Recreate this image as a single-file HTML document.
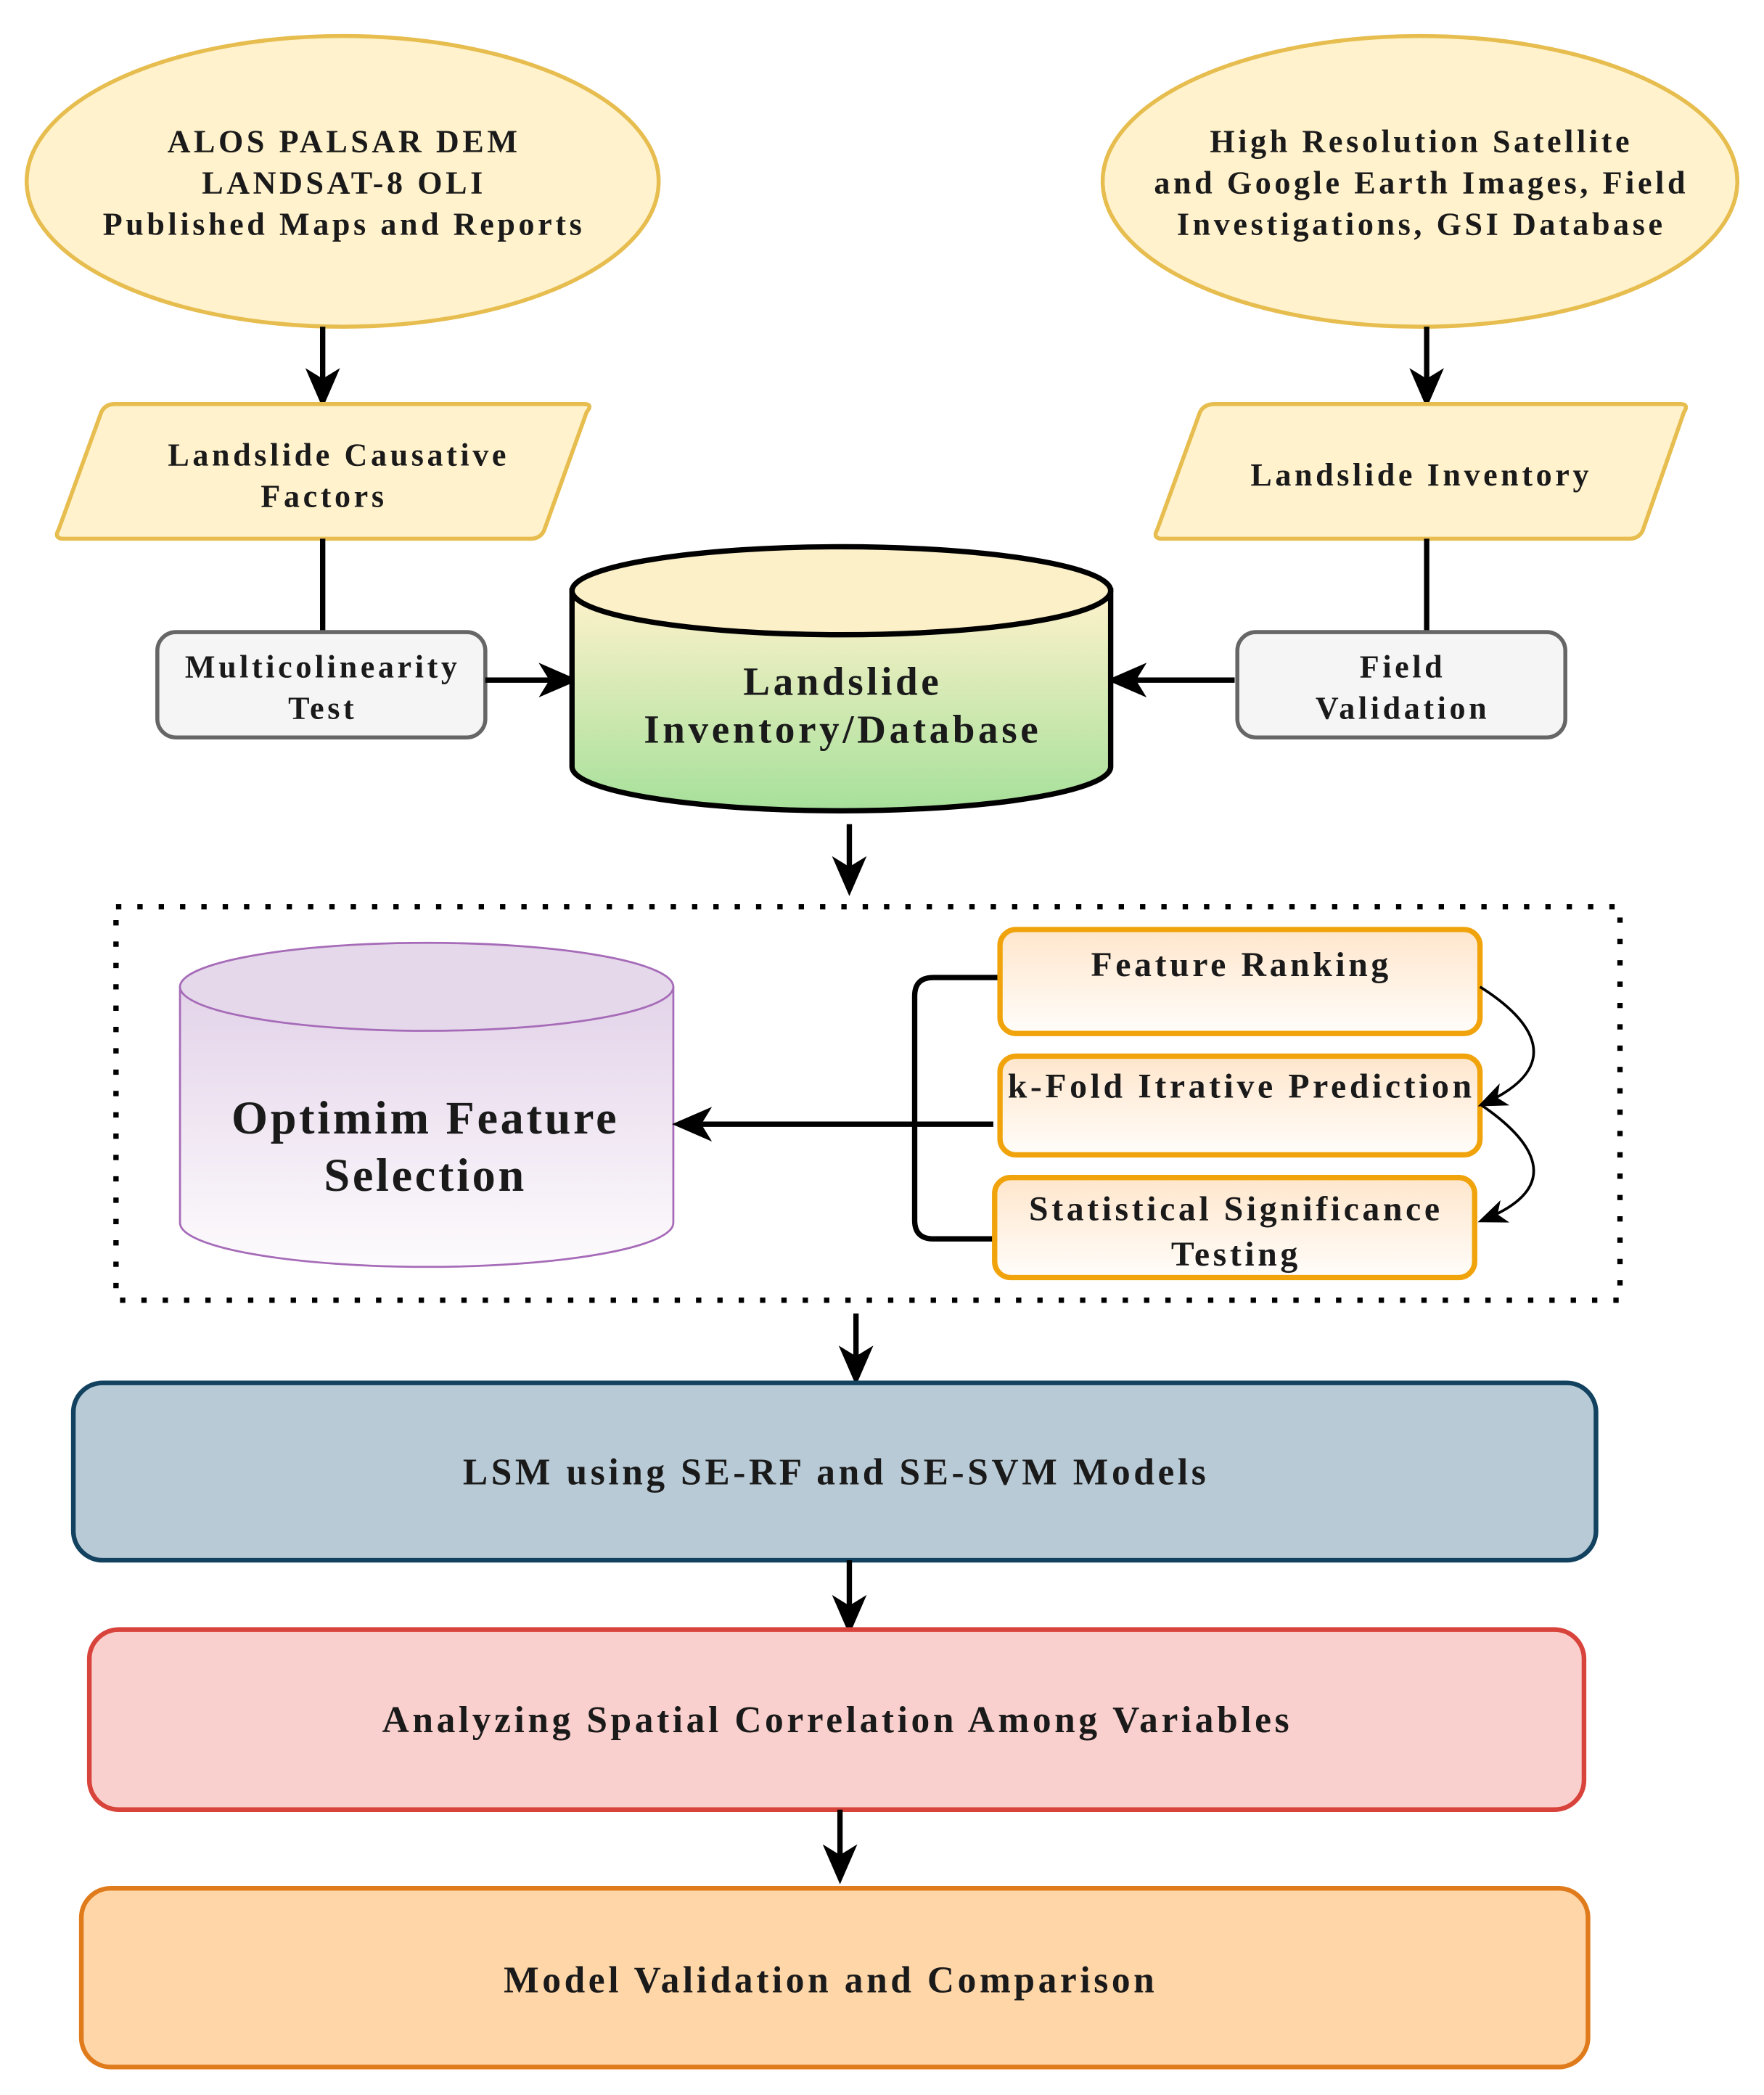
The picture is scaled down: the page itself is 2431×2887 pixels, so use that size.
<!DOCTYPE html>
<html><head><meta charset="utf-8"><style>
html,body{margin:0;padding:0;background:#fff;}
svg{display:block;}
text{font-family:"Liberation Serif",serif;font-weight:bold;fill:#1a1a1a;text-anchor:middle;letter-spacing:2.5px;}
</style></head><body>
<svg width="2431" height="2887" viewBox="0 0 1323 1571" preserveAspectRatio="none" xmlns="http://www.w3.org/2000/svg">
<defs>
<marker id="ahb" markerWidth="30" markerHeight="30" refX="24" refY="15" orient="auto" markerUnits="userSpaceOnUse" viewBox="0 0 30 30"><path d="M0,2 L30,15 L0,28 L8,15 z" fill="#000"/></marker>
<marker id="ahs" markerWidth="22" markerHeight="22" refX="18" refY="11" orient="auto" markerUnits="userSpaceOnUse" viewBox="0 0 22 22"><path d="M0,2 L22,11 L0,20 L6,11 z" fill="#000"/></marker>
<linearGradient id="gg" x1="0" y1="0" x2="0" y2="1"><stop offset="0" stop-color="#fff2cc"/><stop offset="1" stop-color="#a6e09a"/></linearGradient>
<linearGradient id="pg" x1="0" y1="0" x2="0" y2="1"><stop offset="0" stop-color="#e3d3e9"/><stop offset="1" stop-color="#fdfbfd"/></linearGradient>
<linearGradient id="og" x1="0" y1="0" x2="0" y2="1"><stop offset="0" stop-color="#ffe6cc"/><stop offset="1" stop-color="#fffdfa"/></linearGradient>
</defs>

<ellipse cx="257" cy="136" rx="237" ry="109" fill="#fff2cc" stroke="#e6bd4e" stroke-width="3"/>
<text x="258" y="114" font-size="24">ALOS PALSAR DEM</text>
<text x="258" y="145" font-size="24">LANDSAT-8  OLI</text>
<text x="258" y="176" font-size="24">Published Maps and Reports</text>
<ellipse cx="1065" cy="136" rx="238" ry="109" fill="#fff2cc" stroke="#e6bd4e" stroke-width="3"/>
<text x="1066" y="114" font-size="24">High Resolution Satellite</text>
<text x="1066" y="145" font-size="24">and Google Earth Images, Field</text>
<text x="1066" y="176" font-size="24">Investigations, GSI Database</text>

<line x1="242" y1="245" x2="242" y2="300" stroke="#000" stroke-width="4" marker-end="url(#ahb)"/>
<line x1="1070" y1="245" x2="1070" y2="300" stroke="#000" stroke-width="4" marker-end="url(#ahb)"/>

<path d="M86,303 L438,303 Q445,303 440,309 L408,398 Q405,404 398,404 L48,404 Q40,404 44,397 L76,309 Q79,303 86,303 z" fill="#fff2cc" stroke="#e6bd4e" stroke-width="3"/>
<text x="254" y="349" font-size="24">Landslide Causative</text>
<text x="243" y="380" font-size="24">Factors</text>
<path d="M911,303 L1260,303 Q1267,303 1263,309 L1232,398 Q1229,404 1222,404 L872,404 Q864,404 868,397 L900,309 Q903,303 911,303 z" fill="#fff2cc" stroke="#e6bd4e" stroke-width="3"/>
<text x="1066" y="364" font-size="24">Landslide Inventory</text>

<line x1="242" y1="404" x2="242" y2="473" stroke="#000" stroke-width="4"/>
<line x1="1070" y1="404" x2="1070" y2="473" stroke="#000" stroke-width="4"/>

<rect x="118" y="474" width="246" height="79" rx="14" fill="#f5f5f5" stroke="#666" stroke-width="3"/>
<text x="242" y="508" font-size="24">Multicolinearity</text>
<text x="242" y="539" font-size="24">Test</text>
<rect x="928" y="474" width="246" height="79" rx="14" fill="#f5f5f5" stroke="#666" stroke-width="3"/>
<text x="1052" y="508" font-size="24">Field</text>
<text x="1052" y="539" font-size="24">Validation</text>

<line x1="364" y1="510" x2="428" y2="510" stroke="#000" stroke-width="4" marker-end="url(#ahb)"/>
<line x1="926" y1="510" x2="836" y2="510" stroke="#000" stroke-width="4" marker-end="url(#ahb)"/>

<path d="M429,443 L429,575 A202,33 0 0 0 833,575 L833,443 z" fill="url(#gg)" stroke="#000" stroke-width="4"/>
<ellipse cx="631" cy="443" rx="202" ry="33" fill="#fcf0c8" stroke="#000" stroke-width="4"/>
<text x="632" y="521" font-size="30">Landslide</text>
<text x="632" y="557" font-size="30">Inventory/Database</text>

<line x1="637" y1="618" x2="637" y2="666" stroke="#000" stroke-width="4" marker-end="url(#ahb)"/>

<rect x="87" y="680" width="1128" height="295" fill="none" stroke="#000" stroke-width="4" stroke-dasharray="4 12"/>

<path d="M135,740 L135,917 A185,33 0 0 0 505,917 L505,740 z" fill="url(#pg)" stroke="#a66bb8" stroke-width="1.5"/>
<ellipse cx="320" cy="740" rx="185" ry="33" fill="#e5d8ea" stroke="#a66bb8" stroke-width="1.5"/>
<text x="319" y="850" font-size="35" style="letter-spacing:2px">Optimim Feature</text>
<text x="319" y="893" font-size="35" style="letter-spacing:2px">Selection</text>

<line x1="680" y1="843" x2="510" y2="843" stroke="#000" stroke-width="4" marker-end="url(#ahb)"/>
<path d="M750,733 L700,733 Q686,733 686,747 L686,915 Q686,929 700,929 L750,929" fill="none" stroke="#000" stroke-width="4"/>
<line x1="680" y1="843" x2="745" y2="843" stroke="#000" stroke-width="4"/>

<rect x="750" y="697" width="360" height="78" rx="12" fill="url(#og)" stroke="#f0a30a" stroke-width="4"/>
<text x="931" y="732" font-size="26">Feature Ranking</text>
<rect x="750" y="792" width="360" height="74" rx="12" fill="url(#og)" stroke="#f0a30a" stroke-width="4"/>
<text x="931" y="823" font-size="26">k-Fold Itrative Prediction</text>
<rect x="746" y="883" width="360" height="75" rx="12" fill="url(#og)" stroke="#f0a30a" stroke-width="4"/>
<text x="927" y="915" font-size="26">Statistical Significance</text>
<text x="927" y="949" font-size="26">Testing</text>

<path d="M1110,740 C1150,765 1175,800 1112,828" fill="none" stroke="#000" stroke-width="2" marker-end="url(#ahs)"/>
<path d="M1110,828 C1150,855 1175,890 1112,915" fill="none" stroke="#000" stroke-width="2" marker-end="url(#ahs)"/>

<line x1="642" y1="985" x2="642" y2="1033" stroke="#000" stroke-width="4" marker-end="url(#ahb)"/>

<rect x="55" y="1037" width="1142" height="133" rx="22" fill="#b8cad6" stroke="#12425f" stroke-width="3.5"/>
<text x="627" y="1113" font-size="28">LSM using SE-RF and SE-SVM Models</text>
<line x1="637" y1="1170" x2="637" y2="1220" stroke="#000" stroke-width="4" marker-end="url(#ahb)"/>
<rect x="67" y="1222" width="1121" height="135" rx="22" fill="#f9d0cd" stroke="#d8433b" stroke-width="3.5"/>
<text x="628" y="1299" font-size="28">Analyzing Spatial Correlation Among Variables</text>
<line x1="630" y1="1357" x2="630" y2="1407" stroke="#000" stroke-width="4" marker-end="url(#ahb)"/>
<rect x="61" y="1416" width="1130" height="134" rx="22" fill="#fed6a8" stroke="#e07b1c" stroke-width="3.5"/>
<text x="623" y="1494" font-size="28">Model Validation and Comparison</text>
</svg>
</body></html>
